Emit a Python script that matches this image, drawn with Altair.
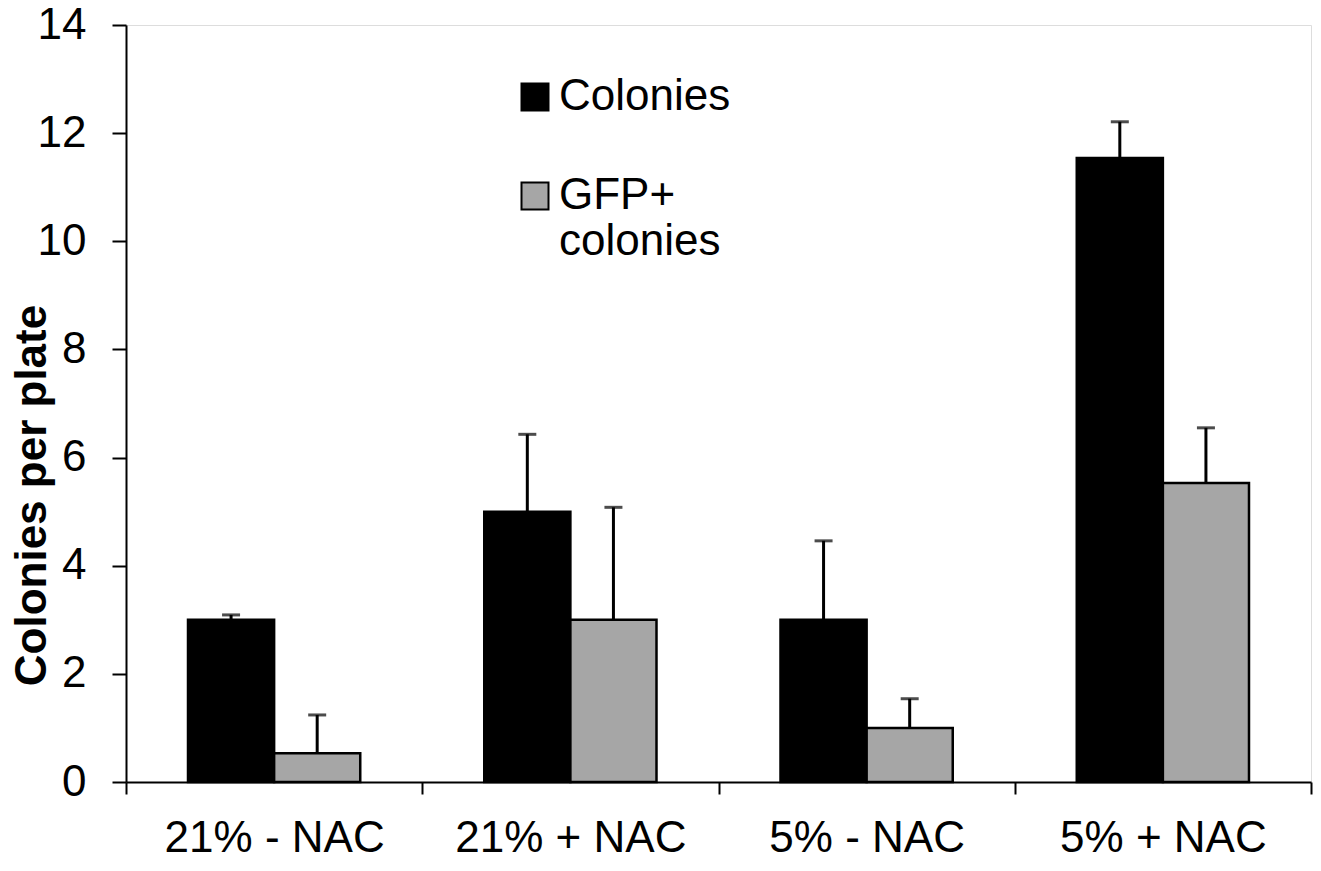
import altair as alt
import pandas as pd

categories = ["21% - NAC", "21% + NAC", "5% - NAC", "5% + NAC"]
series = ["Colonies", "GFP+ colonies"]
colonies = [3.0, 5.0, 3.0, 11.54]
gfp = [0.53, 3.0, 1.0, 5.53]
colonies_err = [0.09, 1.43, 1.46, 0.67]
gfp_err = [0.71, 2.08, 0.54, 1.02]
y_ticks = [0, 2, 4, 6, 8, 10, 12, 14]

rows = []
for i, c in enumerate(categories):
    rows.append({"cat": c, "series": series[0], "value": colonies[i], "top": colonies[i] + colonies_err[i]})
    rows.append({"cat": c, "series": series[1], "value": gfp[i], "top": gfp[i] + gfp_err[i]})
df = pd.DataFrame(rows)

FONT = "Liberation Sans"

x_enc = alt.X(
    "cat:N", sort=categories,
    scale=alt.Scale(paddingInner=0, paddingOuter=0),
    axis=alt.Axis(title=None, labelAngle=0, labelFontSize=44, labelFont=FONT, labelColor="black",
                  labelPadding=22, labelLimit=0, tickBand="extent", tickSize=12, tickColor="black", tickWidth=2,
                  domainColor="black", domainWidth=2),
)
xo_enc = alt.XOffset("series:N", sort=series, scale=alt.Scale(paddingInner=0, paddingOuter=0.72))

base = alt.Chart(df).encode(x=x_enc, xOffset=xo_enc)

bars = base.mark_bar(stroke="black", strokeWidth=2.5).encode(
    y=alt.Y("value:Q", scale=alt.Scale(domain=[0, 14], nice=False),
            axis=alt.Axis(title="Colonies per plate", values=y_ticks, grid=False,
                          labelFontSize=44, labelFont=FONT, labelColor="black", labelPadding=26,
                          tickSize=14, tickColor="black", tickWidth=2,
                          domainColor="black", domainWidth=2,
                          titleFontSize=44, titleFont=FONT, titleFontWeight="bold", titleColor="black",
                          titleAngle=270, titleBaseline="middle", titleAlign="center",
                          titleX=-94, titleY=470)),
    color=alt.Color("series:N", sort=series,
                    scale=alt.Scale(domain=series, range=["#000000", "#a6a6a6"]),
                    legend=alt.Legend(title=None, orient="none", legendX=387, legendY=50,
                                      symbolType="square", symbolSize=729, symbolStrokeColor="black",
                                      symbolStrokeWidth=2, symbolOpacity=1,
                                      labelFontSize=44, labelFont=FONT, labelColor="black",
                                      labelOffset=2, rowPadding=55, padding=0, labelLimit=0,
                                      labelExpr="datum.label == 'GFP+ colonies' ? ['GFP+', 'colonies'] : datum.label")),
)

rules = base.mark_rule(color="black", strokeWidth=3).encode(y="value:Q", y2="top:Q")
caps = base.mark_tick(color="black", size=18, thickness=3).encode(y="top:Q")

chart = alt.layer(bars, rules, caps).properties(
    width=1185, height=757,
    autosize=alt.AutoSizeParams(type="none"),
    padding={"left": 118, "top": 17, "right": 2, "bottom": 80},
).configure_view(stroke=None).configure(background="white")

chart.save("out.html", embed_options={"renderer": "svg", "actions": False})
